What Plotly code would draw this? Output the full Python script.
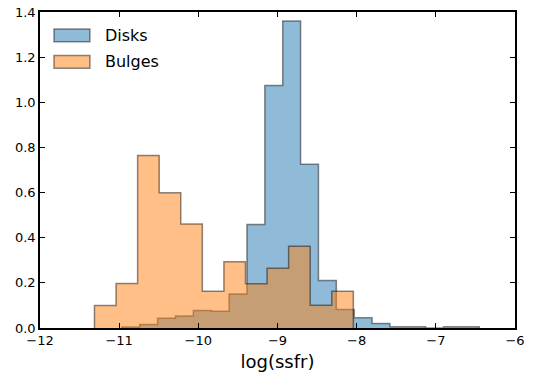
import numpy as np
import plotly.graph_objects as go

# Histogram of log specific star-formation rate, normalised to unit area
disk_range = (-10.966, -6.451)
disk_density = [0.004, 0.016, 0.043, 0.053, 0.078, 0.074, 0.151, 0.458, 1.074, 1.360,
                0.725, 0.210, 0.082, 0.045, 0.020, 0.005, 0.005, 0.0, 0.005, 0.005]

bulge_range = (-11.312, -8.042)
bulge_density = [0.100, 0.197, 0.764, 0.599, 0.461, 0.163, 0.294, 0.196, 0.265, 0.362,
                 0.101, 0.163]

series_names = ["Disks", "Bulges"]
x_ticks = [-12, -11, -10, -9, -8, -7, -6]
y_ticks = [0.0, 0.2, 0.4, 0.6, 0.8, 1.0, 1.2, 1.4]

FONT = "DejaVu Sans"
EDGE = "rgba(0,0,0,0.45)"


def step_outline(lo, hi, heights):
    """Closed step-filled outline of a histogram with equal-width bins."""
    edges = np.linspace(lo, hi, len(heights) + 1)
    xs, ys = [edges[0]], [0.0]
    for i, h in enumerate(heights):
        xs += [edges[i], edges[i + 1]]
        ys += [h, h]
    xs.append(edges[-1])
    ys.append(0.0)
    return xs, ys


fills = ["rgba(31,119,180,0.5)", "rgba(255,127,14,0.5)"]

fig = go.Figure()
for name, rng, dens, fc in zip(series_names,
                               [disk_range, bulge_range],
                               [disk_density, bulge_density],
                               fills):
    xs, ys = step_outline(rng[0], rng[1], dens)
    fig.add_trace(go.Scatter(
        x=xs, y=ys, name=name, mode="lines", fill="toself",
        fillcolor=fc, line=dict(color=EDGE, width=1.5),
        hoverinfo="skip", showlegend=False,
    ))

# Legend drawn as patch boxes with labels, in the upper-left of the axes
patch_x = (0.0295, 0.105)
row_tops = [0.946, 0.862]
row_h = 0.040
for name, fc, top in zip(series_names, fills, row_tops):
    fig.add_shape(type="rect", xref="paper", yref="paper",
                  x0=patch_x[0], x1=patch_x[1], y0=top - row_h, y1=top,
                  fillcolor=fc, line=dict(color=EDGE, width=1.5))
    fig.add_annotation(xref="paper", yref="paper", x=0.133, y=top - row_h / 2,
                       xanchor="left", yanchor="middle", showarrow=False,
                       text=name, font=dict(family=FONT, size=16, color="black"))

axis_common = dict(
    showline=True, linecolor="black", linewidth=1.5, mirror="ticks",
    ticks="inside", ticklen=5, tickwidth=1, tickcolor="black",
    showgrid=False, zeroline=False, automargin=False,
    tickfont=dict(family=FONT, size=13, color="black"),
)

fig.update_xaxes(range=[-12, -6], tickvals=x_ticks, **axis_common,
                 title=dict(text="log(ssfr)", standoff=8,
                            font=dict(family=FONT, size=18, color="black")))
fig.update_yaxes(range=[0, 1.4], tickvals=y_ticks, tickformat=".1f", **axis_common)

fig.update_layout(
    width=542, height=376,
    margin=dict(l=40, r=27, t=12, b=48),
    paper_bgcolor="white", plot_bgcolor="white",
    showlegend=False,
)

fig.write_html("out.html")
